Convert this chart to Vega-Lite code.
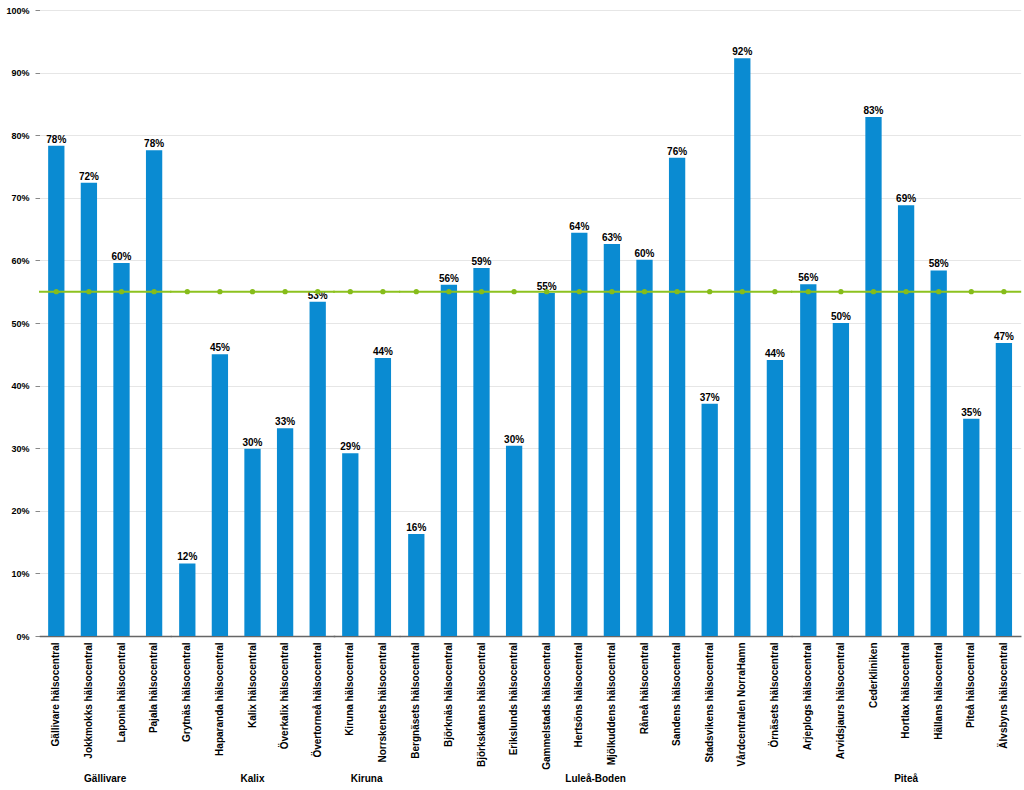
{
  "$schema": "https://vega.github.io/schema/vega-lite/v6.json",
  "padding": {"left": 5, "top": 6, "right": 4, "bottom": 0},
  "background": "white",
  "bounds": "flush",
  "data": {"values": [
    {"group": "Gällivare", "name": "Gällivare hälsocentral", "value": 0.783},
    {"group": "Gällivare", "name": "Jokkmokks hälsocentral", "value": 0.724},
    {"group": "Gällivare", "name": "Laponia hälsocentral", "value": 0.596},
    {"group": "Gällivare", "name": "Pajala hälsocentral", "value": 0.776},
    {"group": "Kalix", "name": "Grytnäs hälsocentral", "value": 0.116},
    {"group": "Kalix", "name": "Haparanda hälsocentral", "value": 0.450},
    {"group": "Kalix", "name": "Kalix hälsocentral", "value": 0.299},
    {"group": "Kalix", "name": "Överkalix hälsocentral", "value": 0.332},
    {"group": "Kalix", "name": "Övertorneå hälsocentral", "value": 0.534},
    {"group": "Kiruna", "name": "Kiruna hälsocentral", "value": 0.292},
    {"group": "Kiruna", "name": "Norrskenets hälsocentral", "value": 0.444},
    {"group": "Luleå-Boden", "name": "Bergnäsets hälsocentral", "value": 0.163},
    {"group": "Luleå-Boden", "name": "Björknäs hälsocentral", "value": 0.561},
    {"group": "Luleå-Boden", "name": "Björkskatans hälsocentral", "value": 0.588},
    {"group": "Luleå-Boden", "name": "Erikslunds hälsocentral", "value": 0.304},
    {"group": "Luleå-Boden", "name": "Gammelstads hälsocentral", "value": 0.548},
    {"group": "Luleå-Boden", "name": "Hertsöns hälsocentral", "value": 0.644},
    {"group": "Luleå-Boden", "name": "Mjölkuddens hälsocentral", "value": 0.626},
    {"group": "Luleå-Boden", "name": "Råneå hälsocentral", "value": 0.601},
    {"group": "Luleå-Boden", "name": "Sandens hälsocentral", "value": 0.764},
    {"group": "Luleå-Boden", "name": "Stadsvikens hälsocentral", "value": 0.371},
    {"group": "Luleå-Boden", "name": "Vårdcentralen NorraHamn", "value": 0.923},
    {"group": "Luleå-Boden", "name": "Örnäsets hälsocentral", "value": 0.441},
    {"group": "Piteå", "name": "Arjeplogs hälsocentral", "value": 0.562},
    {"group": "Piteå", "name": "Arvidsjaurs hälsocentral", "value": 0.500},
    {"group": "Piteå", "name": "Cederkliniken", "value": 0.829},
    {"group": "Piteå", "name": "Hortlax hälsocentral", "value": 0.688},
    {"group": "Piteå", "name": "Hällans hälsocentral", "value": 0.584},
    {"group": "Piteå", "name": "Piteå hälsocentral", "value": 0.347},
    {"group": "Piteå", "name": "Älvsbyns hälsocentral", "value": 0.468}
  ]},
  "facet": {
    "column": {
      "field": "group", "type": "nominal",
      "sort": ["Gällivare", "Kalix", "Kiruna", "Luleå-Boden", "Piteå"],
      "title": null,
      "header": {"labelOrient": "bottom", "labelFont": "Liberation Sans", "labelFontWeight": "bold", "labelFontSize": 10, "labelColor": "black", "labelPadding": 138}
    }
  },
  "spacing": 0,
  "resolve": {"scale": {"x": "independent"}},
  "spec": {
    "width": {"step": 32.6},
    "height": 626,
    "layer": [
      {
        "mark": {"type": "bar", "color": "#0A8BD2"},
        "encoding": {
          "x": {"field": "name", "type": "nominal", "sort": null, "scale": {"paddingInner": 0.5, "paddingOuter": 0.25},
            "axis": {"title": null, "labelAngle": -90, "labelFont": "Liberation Sans", "labelFontSize": 10, "labelFontWeight": "bold", "labelColor": "black", "ticks": false, "labelPadding": 6, "domainColor": "#666666", "domainWidth": 1.5, "domainCap": "square"}},
          "y": {"field": "value", "type": "quantitative", "scale": {"domain": [0, 1]},
            "axis": {"title": null, "values": [0, 0.1, 0.2, 0.3, 0.4, 0.5, 0.6, 0.7, 0.8, 0.9, 1], "format": ".0%", "labelFont": "Liberation Sans", "labelFontSize": 9, "labelFontWeight": "bold", "labelColor": "black", "domain": false, "tickColor": "#888888", "tickSize": 5, "labelPadding": 6, "gridColor": "#e6e6e6", "gridCap": "square"}}
        }
      },
      {
        "mark": {"type": "text", "baseline": "bottom", "dy": -1, "font": "Liberation Sans", "fontWeight": "bold", "fontSize": 10, "color": "black"},
        "encoding": {
          "x": {"field": "name", "type": "nominal", "sort": null},
          "y": {"field": "value", "type": "quantitative"},
          "text": {"field": "value", "type": "quantitative", "format": ".0%"}
        }
      },
      {
        "transform": [{"aggregate": [{"op": "count", "as": "n"}], "groupby": ["group"]}],
        "mark": {"type": "rule", "color": "#8DC21F", "strokeWidth": 2, "strokeCap": "square"},
        "encoding": {"y": {"datum": 0.55}}
      },
      {
        "mark": {"type": "point", "filled": true, "color": "#86BC1A", "size": 28, "opacity": 1},
        "encoding": {
          "x": {"field": "name", "type": "nominal", "sort": null},
          "y": {"datum": 0.55}
        }
      }
    ]
  },
  "config": {"view": {"stroke": null}, "font": "Liberation Sans"}
}
